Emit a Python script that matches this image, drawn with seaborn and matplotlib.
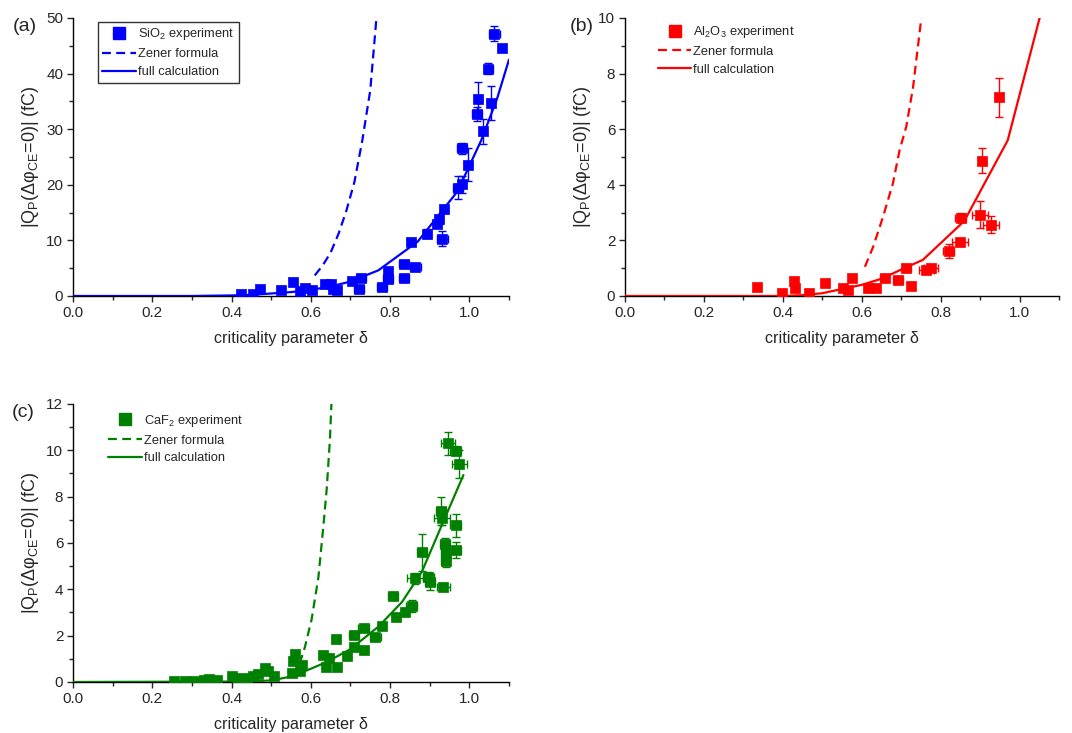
import numpy as np
import pandas as pd
import matplotlib
matplotlib.use("Agg")
import matplotlib.pyplot as plt
from matplotlib.ticker import MultipleLocator
from matplotlib.lines import Line2D
import seaborn as sns

# ---------------- data ----------------
# (a) SiO2
a_x = [0.425, 0.455, 0.471, 0.526, 0.554, 0.572, 0.585, 0.604, 0.636, 0.651, 0.657, 0.667,
       0.705, 0.726, 0.722, 0.780, 0.794, 0.795, 0.835, 0.835, 0.863, 0.852, 0.894, 0.918,
       0.924, 0.932, 0.937, 0.971, 0.981, 0.981, 0.997, 1.019, 1.023, 1.034, 1.048, 1.054,
       1.063, 1.083]
a_y = [0.4, 0.4, 1.2, 1.0, 2.5, 0.9, 1.5, 1.1, 2.1, 2.1, 1.3, 1.1,
       2.7, 3.3, 1.3, 1.7, 4.5, 3.1, 5.7, 3.2, 5.2, 9.7, 11.2, 13.0,
       13.8, 10.3, 15.6, 19.5, 20.1, 26.6, 23.6, 32.7, 35.5, 29.6, 40.9, 34.7,
       47.2, 44.6]
a_xerr = [0, 0, 0, 0, 0, 0, 0, 0, 0, 0, 0, 0,
          0, 0.012, 0.012, 0.012, 0, 0.012, 0.012, 0.012, 0.014, 0.01, 0.01, 0.01,
          0.01, 0.014, 0.008, 0.012, 0.01, 0.012, 0.01, 0.012, 0.01, 0.008, 0.012, 0.01,
          0.014, 0.006]
a_yerr = [0, 0, 0, 0, 0, 0, 0, 0, 0, 0, 0, 0,
          0, 0, 0, 0, 0, 0, 0, 0, 0, 0.6, 0.8, 0.6,
          0.8, 1.4, 0.5, 2.0, 1.5, 1.0, 3.0, 1.3, 3.0, 2.2, 1.0, 3.1,
          1.4, 0.5]
a_full_x = [0.0, 0.3, 0.4, 0.45, 0.5, 0.55, 0.6, 0.65, 0.7, 0.77, 0.87, 0.97, 1.03, 1.07, 1.1]
a_full_y = [0.0, 0.0, 0.1, 0.2, 0.45, 0.7, 1.1, 1.7, 2.6, 4.6, 9.8, 18.8, 28.0, 35.5, 42.5]
a_zen_x = [0.61, 0.63, 0.65, 0.67, 0.69, 0.71, 0.73, 0.75, 0.765]
a_zen_y = [3.7, 5.5, 7.8, 11.2, 15.4, 20.5, 28.0, 37.0, 49.5]

# (b) Al2O3
b_x = [0.335, 0.398, 0.428, 0.430, 0.467, 0.506, 0.553, 0.565, 0.576, 0.616, 0.637, 0.658,
       0.692, 0.713, 0.726, 0.764, 0.776, 0.821, 0.850, 0.851, 0.900, 0.905, 0.928, 0.947]
b_y = [0.32, 0.12, 0.53, 0.30, 0.12, 0.47, 0.30, 0.20, 0.65, 0.30, 0.29, 0.66,
       0.56, 0.99, 0.36, 0.93, 1.01, 1.62, 1.95, 2.82, 2.93, 4.86, 2.57, 7.15]
b_xerr = [0, 0, 0, 0, 0, 0, 0, 0, 0, 0, 0, 0.012,
          0.012, 0.012, 0, 0.02, 0.018, 0.014, 0.02, 0.014, 0.02, 0.01, 0.02, 0.01]
b_yerr = [0, 0, 0, 0, 0, 0, 0, 0, 0, 0, 0, 0,
          0, 0, 0, 0, 0, 0.25, 0, 0.15, 0.5, 0.45, 0.3, 0.7]
b_full_x = [0.0, 0.4, 0.45, 0.5, 0.55, 0.6, 0.65, 0.7, 0.755, 0.86, 0.97, 1.06]
b_full_y = [0.0, 0.0, 0.03, 0.1, 0.25, 0.4, 0.62, 0.95, 1.3, 2.7, 5.6, 10.5]
b_zen_x = [0.608, 0.629, 0.654, 0.679, 0.696, 0.713, 0.730, 0.751]
b_zen_y = [1.05, 1.77, 2.85, 4.05, 5.25, 6.1, 7.5, 10.0]

# (c) CaF2
c_x = [0.254, 0.282, 0.305, 0.330, 0.343, 0.364, 0.400, 0.414, 0.439, 0.455, 0.467, 0.484,
       0.492, 0.507, 0.553, 0.556, 0.560, 0.572, 0.577, 0.630, 0.638, 0.646, 0.663, 0.665,
       0.692, 0.709, 0.709, 0.734, 0.734, 0.763, 0.779, 0.808, 0.814, 0.838, 0.855, 0.863,
       0.880, 0.896, 0.901, 0.928, 0.932, 0.934, 0.939, 0.940, 0.940, 0.947, 0.966, 0.966,
       0.966, 0.975]
c_y = [0.06, 0.06, 0.06, 0.10, 0.13, 0.09, 0.25, 0.19, 0.19, 0.25, 0.36, 0.60,
       0.48, 0.27, 0.39, 0.90, 1.22, 0.46, 0.72, 1.15, 0.65, 1.04, 1.87, 0.65,
       1.12, 2.02, 1.51, 2.35, 1.37, 1.95, 2.41, 3.72, 2.81, 3.01, 3.27, 4.47,
       5.59, 4.54, 4.32, 7.39, 7.06, 4.11, 5.95, 5.55, 5.22, 10.3, 9.99, 6.77,
       5.69, 9.41]
c_xerr = [0, 0, 0, 0, 0, 0, 0, 0, 0, 0, 0, 0,
          0, 0, 0, 0, 0, 0, 0, 0, 0, 0, 0.01, 0,
          0.01, 0.012, 0, 0.014, 0, 0.014, 0.01, 0.012, 0.01, 0.01, 0.014, 0.02,
          0.012, 0.014, 0.012, 0.012, 0.02, 0.016, 0.012, 0.012, 0.012, 0.018, 0.014, 0.014,
          0.014, 0.02]
c_yerr = [0, 0, 0, 0, 0, 0, 0, 0, 0, 0, 0, 0,
          0, 0, 0, 0, 0, 0, 0, 0, 0, 0, 0, 0,
          0, 0.15, 0, 0, 0, 0, 0, 0, 0, 0, 0.25, 0.25,
          0.8, 0.2, 0.35, 0.6, 0.3, 0.15, 0.25, 0.25, 0.25, 0.5, 0.2, 0.5,
          0.35, 0.6]
c_full_x = [0.0, 0.45, 0.5, 0.54, 0.59, 0.64, 0.70, 0.77, 0.83, 0.88, 0.93, 0.985]
c_full_y = [0.0, 0.02, 0.07, 0.2, 0.5, 0.86, 1.42, 2.38, 3.45, 4.75, 6.75, 8.93]
c_zen_x = [0.572, 0.585, 0.602, 0.619, 0.631, 0.640, 0.648, 0.652]
c_zen_y = [0.8, 1.5, 2.7, 4.5, 6.6, 8.3, 10.4, 12.0]

panels = [
    dict(tag="(a)", x=a_x, y=a_y, xe=a_xerr, ye=a_yerr, fx=a_full_x, fy=a_full_y,
         zx=a_zen_x, zy=a_zen_y, color="#0000ff", mat=r"SiO$_\mathregular{2}$ experiment",
         ymax=50, ymaj=10, ymin=5, pos=[0.0681, 0.5962, 0.4067, 0.3793], frame=True,
         tagx=-0.138, leg=(0.057, 0.986)),
    dict(tag="(b)", x=b_x, y=b_y, xe=b_xerr, ye=b_yerr, fx=b_full_x, fy=b_full_y,
         zx=b_zen_x, zy=b_zen_y, color="#ff0000", mat=r"Al$_\mathregular{2}$O$_\mathregular{3}$ experiment",
         ymax=10, ymaj=2, ymin=1, pos=[0.583, 0.5962, 0.4049, 0.3793], frame=False,
         tagx=-0.127, leg=(0.065, 0.994)),
    dict(tag="(c)", x=c_x, y=c_y, xe=c_xerr, ye=c_yerr, fx=c_full_x, fy=c_full_y,
         zx=c_zen_x, zy=c_zen_y, color="#008000", mat=r"CaF$_\mathregular{2}$ experiment",
         ymax=12, ymaj=2, ymin=1, pos=[0.0681, 0.0696, 0.4067, 0.3793], frame=False,
         tagx=-0.14, leg=(0.07, 0.985)),
]

sns.set_style("ticks")
plt.rcParams['font.family'] = ['Liberation Sans', 'DejaVu Sans']
plt.rcParams['mathtext.fontset'] = 'custom'
plt.rcParams['mathtext.rm'] = 'Liberation Sans'

fig = plt.figure(figsize=(10.72, 7.33), dpi=100)

ylab = r"|Q$_\mathregular{P}$(Δφ$_\mathregular{CE}$=0)| (fC)"
LW = 1.6
DASH = [4, 2.4]

for p in panels:
    ax = fig.add_axes(p["pos"])
    col = p["color"]
    ax.errorbar(p["x"], p["y"], xerr=p["xe"], yerr=p["ye"], fmt="none",
                ecolor=col, elinewidth=1.0, capsize=2.8, capthick=1.0, zorder=2)
    df_pts = pd.DataFrame({"x": p["x"], "y": p["y"]})
    sns.scatterplot(data=df_pts, x="x", y="y", ax=ax, marker="s", s=52, color=col,
                    edgecolor=col, linewidth=0.5, zorder=3, legend=False)
    df_full = pd.DataFrame({"x": p["fx"], "y": p["fy"]})
    sns.lineplot(data=df_full, x="x", y="y", ax=ax, color=col, linewidth=LW,
                 sort=False, estimator=None, zorder=4)
    df_zen = pd.DataFrame({"x": p["zx"], "y": p["zy"]})
    sns.lineplot(data=df_zen, x="x", y="y", ax=ax, color=col, linewidth=LW,
                 sort=False, estimator=None, zorder=4)
    ax.lines[-1].set_dashes(DASH)

    ax.set_xlim(0, 1.1)
    ax.set_ylim(0, p["ymax"])
    ax.xaxis.set_major_locator(MultipleLocator(0.2))
    ax.xaxis.set_minor_locator(MultipleLocator(0.1))
    ax.yaxis.set_major_locator(MultipleLocator(p["ymaj"]))
    ax.yaxis.set_minor_locator(MultipleLocator(p["ymin"]))
    ax.xaxis.set_major_formatter(matplotlib.ticker.FormatStrFormatter("%.1f"))
    ax.tick_params(which="major", direction="out", length=4.5, width=1, labelsize=11, pad=2.5)
    ax.tick_params(which="minor", direction="out", length=3, width=1)
    sns.despine(ax=ax)
    for s in ["left", "bottom"]:
        ax.spines[s].set_color("black")
        ax.spines[s].set_linewidth(1.0)
    ax.set_xlabel("criticality parameter δ", fontsize=11.6, labelpad=8)
    ax.set_ylabel(ylab, fontsize=13, labelpad=4)
    ax.text(p["tagx"], 1.0, p["tag"], transform=ax.transAxes, fontsize=14,
            ha="left", va="top")

    handles = [
        Line2D([], [], marker="s", color=col, linestyle="none", markersize=8),
        Line2D([], [], color=col, linestyle=(0, (4, 2.4)), linewidth=LW),
        Line2D([], [], color=col, linestyle="-", linewidth=LW),
    ]
    labels = [p["mat"], "Zener formula", "full calculation"]
    leg = ax.legend(handles, labels, loc="upper left", bbox_to_anchor=p["leg"],
                    borderaxespad=0, frameon=p["frame"], fontsize=9.3,
                    handlelength=2.6, labelspacing=0.45, borderpad=0.35,
                    handletextpad=0.15, fancybox=False, edgecolor="black")
    if p["frame"]:
        leg.get_frame().set_linewidth(1.0)

fig.savefig("out.png", dpi=100)
